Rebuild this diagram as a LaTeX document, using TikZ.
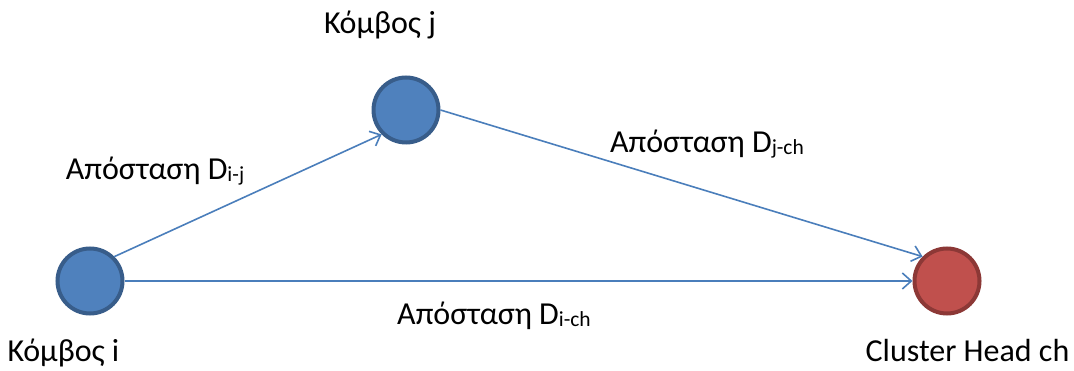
\documentclass[tikz,border=0pt]{standalone}
\usepackage{fontspec}
\setmainfont{Carlito}
\usetikzlibrary{arrows.meta}
\definecolor{nodeblue}{HTML}{4F81BD}
\definecolor{nodeblueedge}{HTML}{385D8A}
\definecolor{nodered}{HTML}{C0504D}
\definecolor{noderededge}{HTML}{8C3836}
\definecolor{connblue}{HTML}{4A7EBB}
\newcommand{\smallsub}[1]{\raisebox{-1.5pt}{\fontsize{21.5}{21.5}\selectfont #1}}
\tikzset{
  bignode/.style={circle, minimum size=65pt, inner sep=0pt, line width=4pt},
  bluenode/.style={bignode, fill=nodeblue, draw=nodeblueedge},
  rednode/.style={bignode, fill=nodered, draw=noderededge},
  conn/.style={draw=connblue, line width=1.6pt, -{Straight Barb[length=9pt,width=16pt,line width=1.6pt]}},
  lbl/.style={inner sep=0pt, anchor=base, font=\fontsize{32}{32}\selectfont, text=black}
}
\begin{document}
\begin{tikzpicture}[x=1pt,y=-1pt]
\useasboundingbox (0,0) rectangle (1074,371);
\node[bluenode] (i) at (90,281) {};
\node[bluenode] (j) at (406,110) {};
\node[rednode] (ch) at (947,281) {};
\draw[conn] (i.45) -- (j.225);
\draw[conn] (j.east) -- (ch.135);
\draw[conn] (i.east) -- (ch.west);
\node[lbl] (lj) at (380,34) {Κόμβος j};
\node[lbl] (li) at (63.5,362) {Κόμβος i};
\node[lbl] (lch) at (967.5,362) {Cluster Head ch};
\node[lbl] (dij) at (155,180) {Απόσταση D\smallsub{i-j}};
\node[lbl] (djch) at (707,153) {Απόσταση D\smallsub{j-ch}};
\node[lbl] (dich) at (494,325) {Απόσταση D\smallsub{i-ch}};
\end{tikzpicture}
\end{document}
